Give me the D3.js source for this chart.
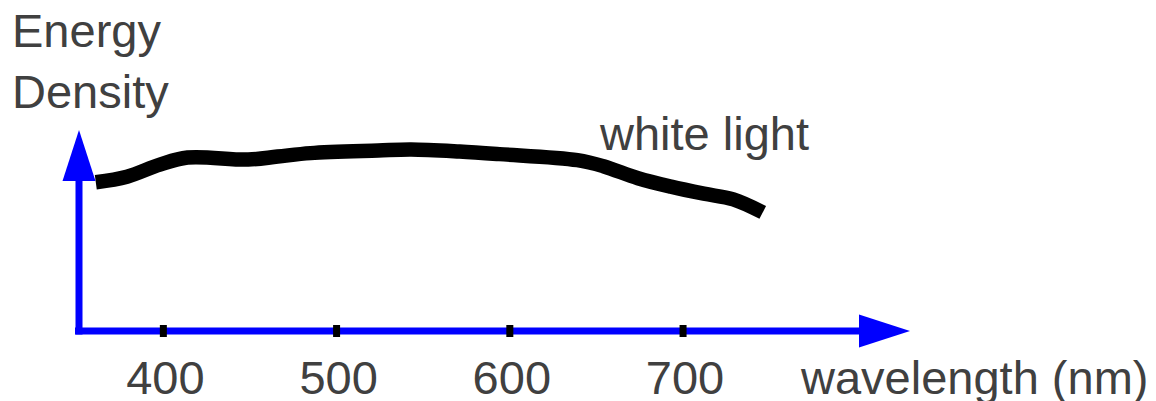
<!DOCTYPE html>
<html>
<head>
<meta charset="utf-8">
<script src="https://cdn.jsdelivr.net/npm/d3@7/dist/d3.min.js"></script>
<style>
  html, body { margin: 0; padding: 0; background: #ffffff; }
  svg { display: block; }
  text { font-family: "Liberation Sans", Arial, Helvetica, sans-serif; fill: #404040; }
</style>
</head>
<body>
<svg id="chart" width="1156" height="401"></svg>
<script>
// ---- data ----
const wavelengths = [361, 379, 398, 414, 449, 466, 485, 524, 543, 571, 594, 639, 654, 674, 693, 712, 729, 746];
const energy      = [74, 76.8, 82.8, 86.3, 85.3, 86.8, 88.5, 89.8, 90.3, 89.3, 88, 85, 82, 76, 71.8, 68.3, 65.5, 59];
const tickValues  = [400, 500, 600, 700];
const tickLabels  = ["400", "500", "600", "700"];
const seriesName  = "white light";
const xTitle      = "wavelength (nm)";
const yTitle      = ["Energy", "Density"];

// ---- layout ----
const svg = d3.select("#chart");
const blue = "#0000ff";
const fontSize = 47;

const x = d3.scaleLinear().domain([349, 831]).range([75, 910]);
const y = d3.scaleLinear().domain([0, 100]).range([331, 130]);

const axisY = y(0);
const axisW = 7;
const vx = x.range()[0] + axisW / 2 + 0.5;
const arrowLen = 51, arrowHalf = 16.5;
const xEnd = x.range()[1], yTop = y.range()[1];

// horizontal axis line
svg.append("line")
  .attr("x1", x.range()[0]).attr("x2", xEnd - arrowLen + 1)
  .attr("y1", axisY).attr("y2", axisY)
  .attr("stroke", blue).attr("stroke-width", axisW);

// vertical axis line
svg.append("line")
  .attr("x1", vx).attr("x2", vx)
  .attr("y1", axisY + axisW / 2).attr("y2", yTop + arrowLen - 1)
  .attr("stroke", blue).attr("stroke-width", axisW);

// arrowheads
svg.append("path")
  .attr("d", `M${xEnd},${axisY} L${xEnd - arrowLen},${axisY - arrowHalf} L${xEnd - arrowLen},${axisY + arrowHalf} Z`)
  .attr("fill", blue);
svg.append("path")
  .attr("d", `M${vx},${yTop} L${vx - arrowHalf},${yTop + arrowLen} L${vx + arrowHalf},${yTop + arrowLen} Z`)
  .attr("fill", blue);

// tick marks
svg.selectAll("rect.tick").data(tickValues).enter().append("rect")
  .attr("class", "tick")
  .attr("x", d => x(d) - 3.5).attr("y", axisY - 6)
  .attr("width", 7).attr("height", 12)
  .attr("fill", "#000");

// tick labels
svg.selectAll("text.ticklabel").data(tickValues).enter().append("text")
  .attr("class", "ticklabel")
  .attr("x", d => x(d) + 2).attr("y", 394)
  .attr("text-anchor", "middle")
  .attr("font-size", fontSize)
  .text((d, i) => tickLabels[i]);

// axis titles
svg.append("text").attr("x", 801).attr("y", 394)
  .attr("font-size", fontSize).text(xTitle);
svg.selectAll("text.ytitle").data(yTitle).enter().append("text")
  .attr("class", "ytitle")
  .attr("x", 12).attr("y", (d, i) => 47 + i * 61)
  .attr("font-size", fontSize).text(d => d);

// curve
const pts = wavelengths.map((w, i) => [w, energy[i]]);
const line = d3.line().x(d => x(d[0])).y(d => y(d[1])).curve(d3.curveCatmullRom.alpha(0.5));
svg.append("path")
  .attr("d", line(pts))
  .attr("fill", "none")
  .attr("stroke", "#000")
  .attr("stroke-width", 14.5)
  .attr("stroke-linecap", "butt")
  .attr("stroke-linejoin", "round");

// series label
svg.append("text").attr("x", 600).attr("y", 150)
  .attr("font-size", fontSize).text(seriesName);
</script>
</body>
</html>
